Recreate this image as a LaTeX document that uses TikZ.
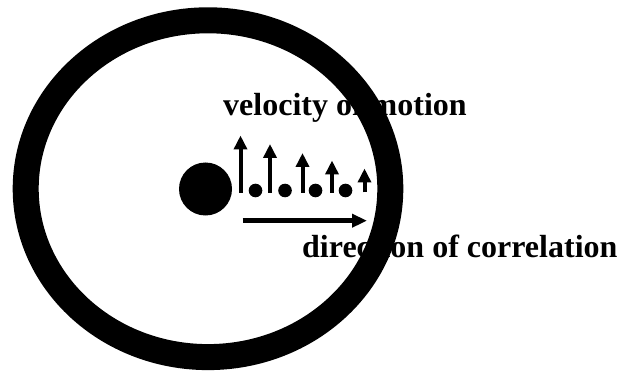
\documentclass[tikz,border=0pt]{standalone}
\usepackage{fontspec}
\setmainfont{Liberation Serif}
\usetikzlibrary{arrows.meta}
\tikzset{
  lbl/.style={anchor=base west,inner sep=0pt,font=\fontsize{32}{36}\selectfont\bfseries},
  varrow/.style={line width=4pt,-{Triangle[length=14pt,width=13pt]}},
  harrow/.style={line width=5pt,-{Triangle[length=15pt,width=13pt]}},
  smalldot/.style={fill=black},
}
\begin{document}
\begin{tikzpicture}[x=1pt,y=-1pt]
\useasboundingbox[fill=white] (0,0) rectangle (620,371);
% labels
\node[lbl] (vel) at (223,116) {velocity of motion};
\node[lbl] (dir) at (302,257) {direction of correlation};
% central body
\fill (205.5,189) circle (26.5);
% vertical velocity arrows
\coordinate (b1) at (240.5,193); \coordinate (t1) at (240.5,135.5);
\coordinate (b2) at (270,193);   \coordinate (t2) at (270,144);
\coordinate (b3) at (302.5,193); \coordinate (t3) at (302.5,153);
\coordinate (b4) at (332,193);   \coordinate (t4) at (332,160.5);
\coordinate (b5) at (364.5,192.5); \coordinate (t5) at (364.5,168.5);
\foreach \i in {1,...,5} \draw[varrow] (b\i) -- (t\i);
% small dots
\foreach \x in {255.5,285,315.5,345.5} \fill[smalldot] (\x,190.5) circle (6.8);
% direction arrow
\coordinate (hs) at (242.5,220.7);
\coordinate (he) at (367,220.7);
\draw[harrow] (hs) -- (he);
% ring
\draw[line width=26pt] (208,188.7) ellipse [x radius=182.3, y radius=168.4];
\end{tikzpicture}
\end{document}
